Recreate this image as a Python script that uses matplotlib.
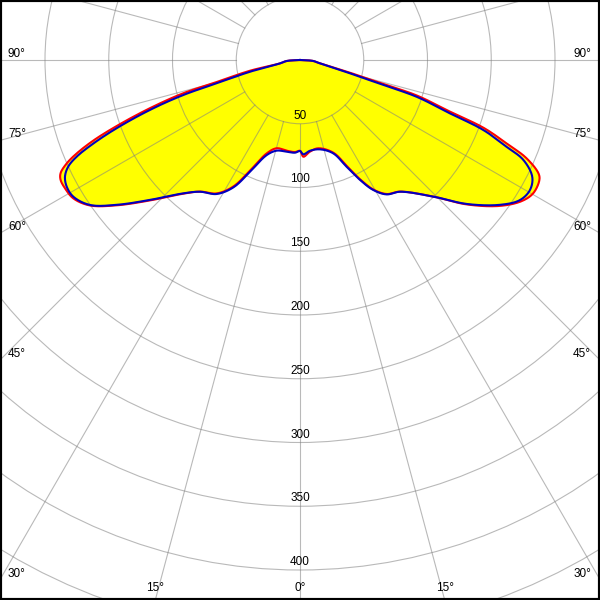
import numpy as np
import matplotlib
matplotlib.use("Agg")
import matplotlib.pyplot as plt
from matplotlib.patches import Circle

# ---- data: luminous intensity (cd/klm) vs. gamma angle (deg), two C-planes ----
gamma_blue = [-90, -85.7, -80.4, -76.8, -74.4, -73.3, -71.6, -69.6, -68.0, -66.6, -65.3,
              -63.6, -61.5, -58.9, -55.4, -51.7, -47.0, -41.2, -37.2, -31.9, -27.6,
              -24.1, -19.3, -14.4, -8.3, -3.1, 0, 2.0, 6.3, 12.6, 19.6,
              23.6, 26.6, 29.4, 32.8, 37.2, 44.3, 49.2, 54.1, 57.5, 60.5,
              63.3, 65.9, 67.2, 69.1, 70.4, 72.5, 73.3, 75.1, 80.4, 85.7, 90]
I_blue = [0, 10.5, 15.9, 40.3, 67.8, 95.6, 124.0, 153.4, 174.8, 190.8, 200.1,
          205.8, 208.2, 207.6, 200.2, 183.3, 160.9, 139.0, 129.7, 123.8, 112.7,
          96.0, 79.0, 73.4, 72.7, 72.8, 71.4, 74.0, 71.6, 71.8, 77.7,
          91.4, 105.2, 117.0, 125.4, 129.7, 149.7, 172.8, 193.7, 204.5, 207.2,
          203.9, 191.9, 175.8, 153.9, 124.9, 95.9, 68.2, 40.6, 15.9, 10.5, 0]

gamma_red = [-90, -85.7, -80.4, -77.9, -75.2, -74.1, -72.2, -70.2, -68.7, -67.3, -66.1,
             -64.7, -63.4, -61.4, -58.6, -55.3, -51.6, -46.9, -41.1, -37.2, -32.0,
             -27.8, -24.3, -19.6, -14.8, -8.3, -3.1, 0, 2.0, 6.2, 11.7,
             19.8, 23.8, 26.7, 29.5, 32.9, 37.2, 44.3, 49.1, 53.9, 57.6,
             60.3, 63.4, 64.6, 66.6, 67.9, 69.7, 71.0, 73.1, 73.9, 75.7,
             80.4, 85.7, 90]
I_red = [0, 10.5, 15.9, 40.1, 67.6, 95.2, 123.6, 152.8, 174.0, 189.8, 200.1,
         207.7, 210.0, 210.0, 208.3, 200.4, 183.5, 161.2, 139.1, 129.6, 123.4,
         112.2, 95.1, 77.7, 71.6, 71.9, 72.3, 71.2, 75.9, 72.3, 70.7,
         77.3, 90.8, 104.7, 116.7, 125.2, 129.6, 149.7, 173.0, 194.2, 206.3,
         210.7, 210.0, 207.0, 193.2, 176.1, 153.9, 124.4, 95.7, 68.0, 40.5,
         15.9, 10.5, 0]

ring_values = [50, 100, 150, 200, 250, 300, 350, 400]
extra_rings = [450, 500, 550]
angle_step = 15
left_angle_labels = [90, 75, 60, 45, 30]
bottom_angle_labels = [-15, 0, 15]

# ---- geometry ----
PX = 1.275          # pixels per cd/klm
W, H = 600, 600
cx, cy = 300, 60    # centre in pixels
xmin, xmax = -cx / PX, (W - cx) / PX
ytop, ybot = -cy / PX, (H - cy) / PX

fig = plt.figure(figsize=(6, 6), dpi=100)
ax = fig.add_axes([0, 0, 1, 1])
ax.set_xlim(xmin, xmax)
ax.set_ylim(ybot, ytop)
ax.set_aspect('equal', adjustable='box')
ax.set_xticks([]); ax.set_yticks([])
for s in ax.spines.values():
    s.set_linewidth(3)
    s.set_color('black')
    s.set_zorder(10)

def xy(g, i):
    g = np.radians(np.asarray(g, float))
    i = np.asarray(i, float)
    return i * np.sin(g), i * np.cos(g)

def smooth(x, y, n=12, alpha=0.5):
    """Centripetal Catmull-Rom drawing path through the given points."""
    P = np.column_stack([x, y])
    P = np.vstack([P[0] - (P[1] - P[0]), P, P[-1] + (P[-1] - P[-2])])
    out = [P[1]]
    for k in range(1, len(P) - 2):
        p0, p1, p2, p3 = P[k - 1], P[k], P[k + 1], P[k + 2]
        t0 = 0.0
        t1 = t0 + max(np.linalg.norm(p1 - p0), 1e-6) ** alpha
        t2 = t1 + max(np.linalg.norm(p2 - p1), 1e-6) ** alpha
        t3 = t2 + max(np.linalg.norm(p3 - p2), 1e-6) ** alpha
        for t in np.linspace(t1, t2, n + 1)[1:]:
            a1 = (t1 - t) / (t1 - t0) * p0 + (t - t0) / (t1 - t0) * p1
            a2 = (t2 - t) / (t2 - t1) * p1 + (t - t1) / (t2 - t1) * p2
            a3 = (t3 - t) / (t3 - t2) * p2 + (t - t2) / (t3 - t2) * p3
            b1 = (t2 - t) / (t2 - t0) * a1 + (t - t0) / (t2 - t0) * a2
            b2 = (t3 - t) / (t3 - t1) * a2 + (t - t1) / (t3 - t1) * a3
            out.append((t2 - t) / (t2 - t1) * b1 + (t - t1) / (t2 - t1) * b2)
    out = np.array(out)
    return out[:, 0], out[:, 1]

xr, yr = smooth(*xy(gamma_red, I_red))
xb, yb = smooth(*xy(gamma_blue, I_blue))

# fill
ax.fill(xr, yr, color='#FFFF00', zorder=1, lw=0)

# grid
gcol = '#808080'
for r in ring_values + extra_rings:
    ax.add_patch(Circle((0, 0), r, fill=False, ec=gcol, lw=0.8, alpha=0.55, zorder=2))
for a in range(0, 360, angle_step):
    t = np.radians(a)
    ax.plot([50 * np.sin(t), 700 * np.sin(t)], [50 * np.cos(t), 700 * np.cos(t)],
            color=gcol, lw=0.8, alpha=0.55, zorder=2)

# curves
ax.plot(xr, yr, color='#FF0000', lw=1.5, zorder=4, solid_joinstyle='round')
ax.plot(xb, yb, color='#0000C0', lw=1.5, zorder=5, solid_joinstyle='round')

font = dict(family=['Liberation Sans', 'DejaVu Sans'], fontsize=8.5, color='black', zorder=6)

# ring labels
for r in ring_values:
    ax.text(0, r - 2 / PX, str(r), ha='center', va='bottom', **font)

# angle labels on left/right edges
for a in left_angle_labels:
    t = np.radians(a)
    yedge = (cx / PX) / np.tan(t) if a != 90 else 0.0
    ylab = yedge - 6 / PX
    ax.text(xmin + 8 / PX, ylab, f"{a}°", ha='left', va='center', **font)
    ax.text(xmax - 9 / PX, ylab, f"{a}°", ha='right', va='center', **font)

# angle labels on bottom edge
for a in bottom_angle_labels:
    t = np.radians(a)
    xedge = ybot * np.tan(t)
    ax.text(xedge, ybot - 12 / PX, f"{abs(a)}°", ha='center', va='center', **font)

fig.savefig('out.png', dpi=100)
